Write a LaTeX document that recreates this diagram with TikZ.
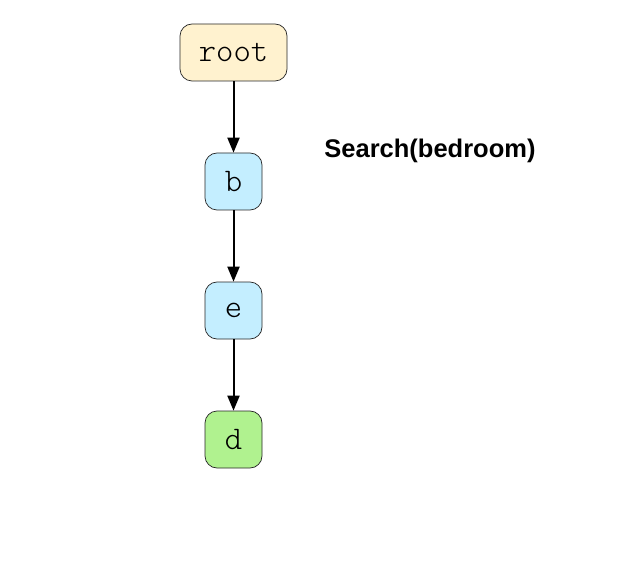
\documentclass[tikz,border=0pt]{standalone}
\usepackage{fontspec}
\setmainfont{Liberation Sans}
\setmonofont{Latin Modern Mono Light}
\usetikzlibrary{positioning,arrows.meta}
\definecolor{rootfill}{HTML}{FFF2CF}
\definecolor{charfill}{HTML}{C4EEFF}
\definecolor{endfill}{HTML}{B0F28F}
\tikzstyle{charnode}=[rectangle,rounded corners=12pt,draw=black!85,line width=0.7pt,minimum width=57pt,minimum height=57pt,inner sep=0pt,font=\ttfamily\fontsize{33}{33}\selectfont]
\tikzstyle{edge}=[-{Triangle[length=15pt,width=12pt]}, line width=2pt]

\begin{document}
\begin{tikzpicture}[x=1pt,y=1pt]
  \useasboundingbox (0,0) rectangle (618,-561);
  \node [charnode, fill=rootfill, minimum width=107pt] at (233.5, -52.5) (root) {root};
  \node [charnode, fill=charfill] at (233.5, -181.5) (b) {b};
  \node [charnode, fill=charfill] at (233.5, -310.5) (e) {e};
  \node [charnode, fill=endfill] at (233.5, -439.5) (d) {d};

  \node [font=\bfseries\fontsize{25.5}{25.5}\selectfont] at (430, -150.5) (search) {Search(bedroom)};

  \draw [edge] (root) -- (b);
  \draw [edge] (b) -- (e);
  \draw [edge] (e) -- (d);
\end{tikzpicture}
\end{document}
